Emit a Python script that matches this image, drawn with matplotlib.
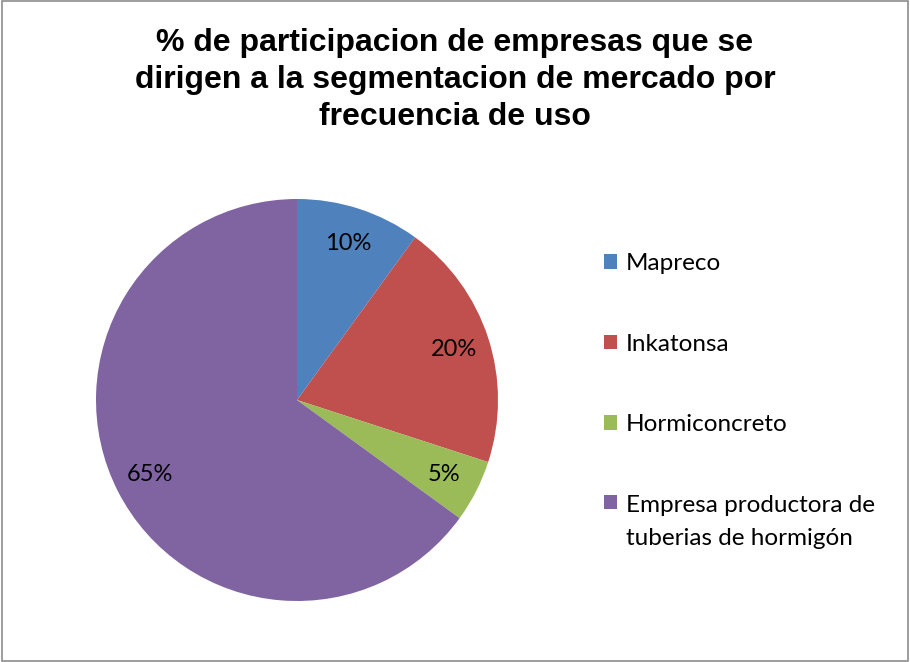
import matplotlib
matplotlib.use("Agg")
import matplotlib.pyplot as plt
from matplotlib.patches import Rectangle

# datos
labels = ['Mapreco', 'Inkatonsa', 'Hormiconcreto',
          'Empresa productora de\ntuberias de hormigón']
valores = [10, 20, 5, 65]
colores = ['#4F81BD', '#C0504D', '#9BBB59', '#8064A2']

titulo = ('% de participacion de empresas que se\n'
          'dirigen a la segmentacion de mercado por\n'
          'frecuencia de uso')

fig = plt.figure(figsize=(9.1, 6.62), dpi=100)
fig.patches.append(Rectangle((0.002, 0.002), 0.996, 0.996, transform=fig.transFigure,
                             fill=False, edgecolor='#8c8c8c', linewidth=1.2))

ax = fig.add_axes([96/910, 61/662, 402/910, 402/662])
wedges, texts, autotexts = ax.pie(valores, colors=colores, startangle=90, counterclock=False,
                                  autopct='%1.0f%%', pctdistance=0.82,
                                  textprops={'family': 'Lato', 'fontsize': 17, 'color': 'black'})
ax.set_xlim(-1, 1)
ax.set_ylim(-1, 1)
ax.set_aspect('equal')

fig.text(0.5, 1 - 80/662, titulo, ha='center', va='center', fontsize=23, fontweight='bold',
         family='Liberation Sans', linespacing=1.3)

leg = fig.legend(wedges, labels, loc='upper left', bbox_to_anchor=(604/910, 1 - 253/662),
                 frameon=False, prop={'family': 'Lato', 'size': 17.5},
                 handlelength=0.55, handleheight=0.55, handletextpad=0.35,
                 labelspacing=2.45, borderpad=0, borderaxespad=0)
for t in leg.get_texts():
    t.set_linespacing(1.75)
# marcador alineado con la primera linea en la etiqueta de dos lineas
filas = leg._legend_handle_box.get_children()[0].get_children()
filas[-1].align = 'top'

fig.savefig('out.png', dpi=100)
